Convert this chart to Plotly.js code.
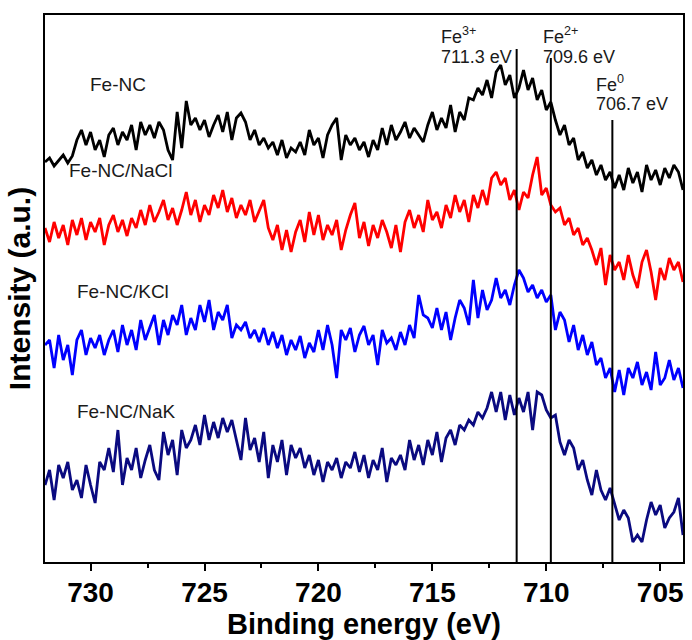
<!DOCTYPE html>
<html>
<head>
<meta charset="utf-8">
<script src="https://cdn.plot.ly/plotly-3.0.1.min.js"></script>
<style>html,body{margin:0;padding:0;background:#fff}#chart{width:692px;height:640px}</style>
</head>
<body>
<div id="chart"></div>
<script>
// Binding energy grid (eV)
const energy = [732.0,731.8,731.6,731.4,731.2,731.0,730.8,730.6,730.4,730.2,
730.0,729.8,729.6,729.4,729.2,729.0,728.8,728.6,728.4,728.2,
728.0,727.8,727.6,727.4,727.2,727.0,726.8,726.6,726.4,726.2,
726.0,725.8,725.6,725.4,725.2,725.0,724.8,724.6,724.4,724.2,
724.0,723.8,723.6,723.4,723.2,723.0,722.8,722.6,722.4,722.2,
722.0,721.8,721.6,721.4,721.2,721.0,720.8,720.6,720.4,720.2,
720.0,719.8,719.6,719.4,719.2,719.0,718.8,718.6,718.4,718.2,
718.0,717.8,717.6,717.4,717.2,717.0,716.8,716.6,716.4,716.2,
716.0,715.8,715.6,715.4,715.2,715.0,714.8,714.6,714.4,714.2,
714.0,713.8,713.6,713.4,713.2,713.0,712.8,712.6,712.4,712.2,
712.0,711.8,711.6,711.4,711.2,711.0,710.8,710.6,710.4,710.2,
710.0,709.8,709.6,709.4,709.2,709.0,708.8,708.6,708.4,708.2,
708.0,707.8,707.6,707.4,707.2,707.0,706.8,706.6,706.4,706.2,
706.0,705.8,705.6,705.4,705.2,705.0,704.8,704.6,704.4,704.2,
704.0];

// Intensities (a.u., stacked offsets as in the figure)
const feNC = [438,442,434,440,445,437,444,460,470,455,
468,450,460,443,465,472,455,468,460,475,
450,478,465,475,462,478,470,450,440,488,
452,499,475,482,470,480,463,475,485,468,
488,460,482,487,478,460,470,455,462,452,
458,445,460,442,452,448,458,445,470,455,
462,442,465,475,482,440,465,455,462,450,
458,443,460,450,472,455,475,460,468,478,
462,472,465,458,475,488,470,482,472,495,
468,488,480,502,500,512,505,520,502,528,
535,515,525,502,512,530,510,522,500,510,
490,498,480,465,475,455,462,440,448,432,
440,425,435,420,428,412,425,410,432,417,
428,408,435,420,430,415,432,422,435,428,
410];

const feNC_NaCl = [372,358,378,362,375,355,380,365,382,360,
378,368,382,355,375,385,368,380,364,382,
372,390,375,395,378,388,400,380,392,375,
390,408,385,400,378,395,385,405,392,410,
388,402,382,395,385,400,378,390,400,372,
360,375,350,370,348,368,380,358,388,365,
385,360,375,365,380,350,370,385,397,362,
378,354,375,362,380,368,352,375,348,378,
390,372,385,368,400,380,388,372,395,382,
405,388,400,378,405,392,410,395,422,428,
415,422,400,410,390,408,402,425,443,405,
412,395,388,392,375,382,365,372,355,362,
350,335,352,315,345,330,338,320,345,325,
312,338,350,328,300,332,320,342,330,338,
318];

const feNC_KCl = [255,260,232,265,240,255,225,260,270,245,
262,252,265,245,260,270,248,275,255,270,
250,280,260,272,285,255,280,265,285,275,
295,265,282,270,295,278,300,270,288,280,
295,262,275,270,278,262,270,258,272,255,
268,252,265,245,260,250,264,242,257,248,
270,250,275,255,222,270,260,272,248,265,
274,255,265,235,270,257,262,250,268,255,
275,262,305,285,282,272,292,270,288,260,
282,300,292,275,320,282,310,290,300,322,
302,310,295,315,330,322,308,315,302,310,
298,305,270,288,280,258,275,250,265,245,
258,235,242,222,232,208,230,205,232,222,
238,215,228,210,248,215,222,240,220,232,
212];

const feNC_NaK = [115,130,100,135,122,138,110,120,102,135,
115,97,138,130,152,128,170,115,142,130,
152,122,140,155,130,120,168,145,160,125,
170,152,160,175,155,185,160,178,162,182,
168,180,160,140,182,150,162,138,168,122,
155,138,160,125,155,142,152,132,145,125,
140,118,138,130,142,122,138,132,148,128,
145,122,140,130,152,118,142,135,145,130,
160,140,155,135,160,145,168,138,162,170,
155,175,170,180,175,188,182,192,208,188,
208,180,205,185,202,188,208,170,208,205,
190,182,185,158,145,160,152,130,140,120,
105,130,110,100,112,95,80,90,82,58,
65,58,80,98,85,95,72,82,88,102,
65];

const seriesNames = ['Fe-NC','Fe-NC/NaCl','Fe-NC/KCl','Fe-NC/NaK'];
const seriesColors = ['#000000','#ff0000','#0000ff','#0a0a80'];
const seriesData = [feNC, feNC_NaCl, feNC_KCl, feNC_NaK];

// Reference lines
const peakEnergies = [711.3, 709.8, 707.1];
const peakTops = [551, 542, 480];
const peakBase = 38;

const FONT = 'Arial, "Liberation Sans", sans-serif';

const traces = seriesData.map((ys, k) => ({
  x: energy, y: ys, type: 'scatter', mode: 'lines',
  name: seriesNames[k], line: {color: seriesColors[k], width: 2.8},
  hoverinfo: 'skip', showlegend: false
}));

peakEnergies.forEach((e, k) => {
  traces.push({
    x: [e, e], y: [peakBase, peakTops[k]], type: 'scatter', mode: 'lines',
    line: {color: '#000', width: 2}, hoverinfo: 'skip', showlegend: false
  });
});

const ann = (x, y, text, size) => ({
  x: x, y: y, xref: 'x', yref: 'y', text: text, showarrow: false,
  xanchor: 'left', yanchor: 'middle',
  font: {family: FONT, size: size, color: '#1a1a1a'}
});

const layout = {
  width: 692, height: 640,
  margin: {l: 45, r: 9, t: 15, b: 78},
  paper_bgcolor: '#fff', plot_bgcolor: '#fff',
  showlegend: false,
  xaxis: {
    range: [732, 704], autorange: false,
    dtick: 5, tick0: 705,
    ticks: 'outside', ticklen: 7, tickwidth: 2, tickcolor: '#000',
    ticklabelstandoff: -3,
    minor: {ticks: 'outside', ticklen: 4, tickwidth: 2, tickcolor: '#000', dtick: 2.5, tick0: 705},
    showline: true, linewidth: 2, linecolor: '#000', mirror: true,
    showgrid: false, zeroline: false,
    tickfont: {family: FONT, size: 28, weight: 'bold', color: '#000'},
    title: {text: 'Binding energy (eV)', font: {family: FONT, size: 29, weight: 'bold', color: '#000'}, standoff: 3}
  },
  yaxis: {
    range: [38, 585], autorange: false,
    showticklabels: false, ticks: '',
    showline: true, linewidth: 2, linecolor: '#000', mirror: true,
    showgrid: false, zeroline: false,
    title: {text: 'Intensity (a.u.)', font: {family: FONT, size: 30, weight: 'bold', color: '#000'}, standoff: 4}
  },
  annotations: [
    ann(730.11, 516, seriesNames[0], 19),
    ann(731.03, 430, seriesNames[1], 19),
    ann(730.68, 309, seriesNames[2], 19),
    ann(730.68, 189, seriesNames[3], 19),
    ann(714.71, 565, 'Fe<sup>3+</sup>', 18),
    ann(714.71, 543, '711.3 eV', 18),
    ann(710.23, 565, 'Fe<sup>2+</sup>', 18),
    ann(710.23, 543, '709.6 eV', 18),
    ann(707.91, 517, 'Fe<sup>0</sup>', 18),
    ann(707.91, 496, '706.7 eV', 18)
  ]
};

Plotly.newPlot('chart', traces, layout, {displayModeBar: false, staticPlot: true});
</script>
</body>
</html>
